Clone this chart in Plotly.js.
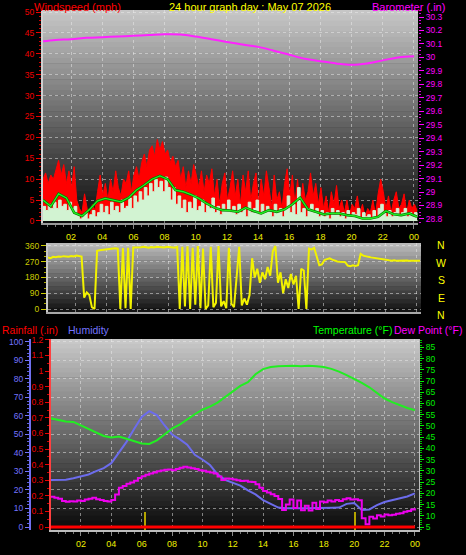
<!DOCTYPE html>
<html><head><meta charset="utf-8">
<script src="https://cdn.plot.ly/plotly-3.0.1.min.js"></script>
<style>html,body{margin:0;padding:0;background:#000;overflow:hidden}#chart{width:466px;height:555px}</style>
</head><body><div id="chart"></div>
<script>
// ---------- data ----------
const hourTickVals = [2,4,6,8,10,12,14,16,18,20,22,24];
const hourTickText = ['02','04','06','08','10','12','14','16','18','20','22','00'];

const windTickVals = [0,5,10,15,20,25,30,35,40,45,50];
const windTickText = ['0','5','10','15','20','25','30','35','40','45','50'];
const baroTickVals = [28.8,28.9,29.0,29.1,29.2,29.3,29.4,29.5,29.6,29.7,29.8,29.9,30.0,30.1,30.2,30.3];
const baroTickText = ['28.8','28.9','29','29.1','29.2','29.3','29.4','29.5','29.6','29.7','29.8','29.9','30','30.1','30.2','30.3'];
const dirTickVals = [0,90,180,270,360];
const dirTickText = ['0','90','180','270','360'];
const rainTickVals = [0,0.1,0.2,0.3,0.4,0.5,0.6,0.7,0.8,0.9,1.0,1.1,1.2];
const rainTickText = ['0','0.1','0.2','0.3','0.4','0.5','0.6','0.7','0.8','0.9','1','1.1','1.2'];
const humTickVals = [0,10,20,30,40,50,60,70,80,90,100];
const tempTickVals = [5,10,15,20,25,30,35,40,45,50,55,60,65,70,75,80,85];
const compassLabels = ['N','W','S','E','N'];

// wind gust (mph), 10-minute samples from 00:12
const gustMph = [10,11.5,9,11,10, 12,14.5,11, 13.5,9,12,8,13, 5,3, 2,6.5,3,1.5,4,2.5,7,
  11,6,9,5, 10,7,12,8,6,10, 9,12,7,11,13,10, 14,16,13,17, 18,15.5,19.5,17,19,16,
  17,14,15.5,13,14.5, 10,13,8,12,9,13.5,11, 8,12,7,11,9,12.5, 6,10,4,9,11.5,5,8,
  12,6,10,4,11,7,12, 5,9,11.5,4,10,6,12, 8,3.5,11,5,7,3, 9,12.5,6,11, 4,10,3,9,5,7,
  11.5,6,9,4,8, 3,6,2,7,4,8.5,3,5, 2,5,1.5,4,3,6,2,4,1, 3,2,5,1.5, 6.5,10,7,
  3,6,2,5,7,3,4,6.5,2, 5,3,4,2.5];
// wind speed (mph), 10-minute samples
const speedMph = [3.5,2.5,4,3,4.5,3,5,3.5,4,2.5,4.5,3,3.5,
  1.5,0.5,1,2,0.5,1.5,2.5,1,2,
  4,2,3.5,1.5,4.5,2.5,3.5,2,5,3,
  3.5,5.5,3,6,4.5,7,5,8,6,9,
  7,10,8,9.5,7,10.5,8,5,8,4,6,
  3,5,2,4.5,3,6,2.5,3.5,5,2,4,3,5.5,
  2,3.5,1.5,4,2.5,5,2,3.5,1.5,4,2,3,1,4.5,
  2,3,5,1.5,4,2,3.5,2.5,1,4,2,3,1,
  3,6,2,4,1.5,8,2,3,1,3,4,2,3,1,2.5,
  1,2,0.5,3,1.5,2.5,1,2,0.5,2.5,1,2,1.5,3,0.5,2,1,1.5,0.5,2.5,1,
  3,4,2,1,2.5,1,2,3,1,2,3,1,2,1,2,1];
// average wind (mph), 30-minute samples from 00:12
const avgMph = [5,3.5,6.5,5.5,2,1.2,2.8,4.8,5.4,5, 4.6,5.6,7.4,8.6,10,10.8,10,7.4,7,6.3,
  5.4,4.2,3.2,2.6,2.5,2.2,3.2,2.4,1.8,2.6, 2.2,2.8,4,5.6,2.8,2.2,1.6,1.8,1.8,1.4,
  1.2,0.6,0.6,1,2.4,1.6,1.4,1.8,1];
// barometer (in), hourly
const baroIn = [30.12,30.13,30.135,30.145,30.15,30.155,30.16,30.166,30.172,30.17,30.155,30.135,
  30.115,30.095,30.078,30.05,30.02,29.99,29.972,29.955,29.945,29.955,29.978,30.0,30.008];
// wind direction (deg), 10-minute samples
const windDirDeg = [295,290,298,296,300,298,302,300,299,303,300,305,302,
  300,65,95,80,10,0, 333,336,338,340,342,340,345,347,345, 0,348,5,350,0,352,
  352,350,353,355,352,350,354,352,355,353,350,352,355,353,352,350,355,
  0,355,15,358,0,350,25,360,5,345,0,
  20,355,10,35,360,15,45,5,350,30,10,170,355,20,60,25,80,
  290,180,230,150,210,170, 240,190,330,360, 150,210,90,170,120,200,140,190,0,
  230,220,0, 345,340,350,300, 250,255,280, 285,290,282,275,272,270,270,268,
  248,245,250,246,250, 315,305, 300,298,295,292,290,288,285,282,
  280,278,276,278,275,276,274,275,277,275,276,274,275,276];
// temperature (F) and humidity (%), 30-minute samples from 00:00
const tempF = [53.4,52.8,52,51.8,50.2,48.8,47,45.5,44.8,45.3, 44.3,43.2,42.2,42,43.6,46.2,48.8,50.6,53,55.2,
  57.2,58.6,60.4,62.8,65.5,67.8,69.5,73,75.3,76.2, 76.6,76.8,76.8,76.6,76.8,76.6,76.2,75.4,74.2,72.6,
  71,69.2,67.2,64.8,62.2,60.6,59.2,58,57];
const humidityPct = [25.4,25.4,25.6,26.4,27.2,28.4,30.2,31.8,34.5,40.5, 46,53,59.5,62.6,60.5,55,50,47.5,44.5,39,
  36.5,33.5,28.5,25.5,24,22.4,19.8,17.6,14.5,12.5, 10.5,10.2,10.1,10,10.1,10.3,10.2,10.4,10.5,12.5,
  13,9.2,9.5,11.8,13.5,14.6,15.4,16.5,18.2];
// dew point (F), 15-minute samples from 00:00
const dewPointF = [18.5,18,17.6,16.6,16.2,16.5,16.3,16.8,16.6,17.2,
  17.6,18,17.4,17,16.6,16.3,17,19.5,22.5,23.2,
  24.2,24.8,25.6,26.8,27.6,28.3,28.8,29.3,29.8,30.2,
  30.5,30.6,30.3,30.8,31.4,31.8,31.5,31.2,30.8,30.3,
  30,29.6,29.3,28.8,27.5,25.9,26.6,26.5,26.2,25.8,
  25.5,25.6,25.2,25,24,22.5,21,20.4,19.6,18.8,
  17.5,12.6,15,17.2,13.5,16.8,12.5,14.5,12.3,15.8,
  13,16.3,16,16.8,16.4,17,16.6,17.3,17.8,17.2,
  17.4,16.9,8.9,6.2,9.6,8.8,10.2,9.7,10.6,10.2,
  10.4,10.9,11.1,11.8,12.1,12.8,13.3];
// rainfall (in), hourly
const rainIn = [0,0,0,0,0,0,0,0,0,0,0,0,0,0,0,0,0,0,0,0,0,0,0,0,0];
// yellow event markers in the lower panel
const markHours = [6.2, 20.05];
const markValues = [0.115, 0.115];

// ---------- time axes ----------
const seq = (start, step, n) => Array.from({length:n}, (_, i) => start + i*step);
const t10 = seq(0.2, 1/6, 145);
const t30w = seq(0.2, 0.5, 49);
const tBaro = seq(0, 1, 25).map(h => h === 0 ? 0.2 : h);
const tHalf = seq(0, 0.5, 49);
const tQuarter = seq(0, 0.25, 97);
const tHour = seq(0, 1, 25);

// ---------- geometry ----------
const W = 466, H = 555;
const px = x => x / W, py = y => 1 - y / H;
const GRID = 'rgba(235,235,235,0.5)';

function bands(x0, x1, yTop, yBot, top, bot, n) {
  const out = [];
  for (let k = 0; k < n; k++) {
    const f = k / (n - 1);
    const c = Math.round(top + (bot - top) * f);
    const ya = yTop + (yBot - yTop) * k / n, yb = yTop + (yBot - yTop) * (k + 1) / n + 0.6;
    out.push({type:'rect', xref:'paper', yref:'paper', x0:px(x0), x1:px(x1), y0:py(yb), y1:py(ya),
      fillcolor:`rgb(${c},${c},${c})`, line:{width:0}, layer:'below'});
  }
  return out;
}
const shapes = [].concat(
  bands(43, 418, 10, 223, 198, 12, 40),
  bands(48, 421, 243, 312, 185, 20, 16),
  bands(51, 419, 339, 530, 200, 10, 40)
);

const traces = [
  {x:t10, y:gustMph, type:'scatter', mode:'lines', fill:'tozeroy', fillcolor:'#ff0000',
   line:{color:'#ff0000', width:1}, xaxis:'x', yaxis:'y', hoverinfo:'skip'},
  {x:t10, y:speedMph, type:'scatter', mode:'lines', fill:'tozeroy', fillcolor:'#d2f3d2',
   line:{color:'#d2f3d2', width:1, shape:'hv'}, xaxis:'x', yaxis:'y', hoverinfo:'skip'},
  {x:t30w, y:avgMph, type:'scatter', mode:'lines', line:{color:'#007a00', width:2.6}, xaxis:'x', yaxis:'y', hoverinfo:'skip'},
  {x:t30w, y:avgMph, type:'scatter', mode:'lines', line:{color:'#22ee22', width:1.3}, xaxis:'x', yaxis:'y', hoverinfo:'skip'},
  {x:tBaro, y:baroIn, type:'scatter', mode:'lines', line:{color:'#ff22ff', width:2, shape:'spline'}, xaxis:'x', yaxis:'y2', hoverinfo:'skip'},
  {x:t10, y:windDirDeg, type:'scatter', mode:'lines', line:{color:'#f2f200', width:2}, xaxis:'x2', yaxis:'y3', hoverinfo:'skip'},
  {x:markHours, y:markValues, base:[-0.02,-0.02], type:'bar', width:0.14, marker:{color:'#b4a400', line:{width:0}}, xaxis:'x3', yaxis:'y4', hoverinfo:'skip'},
  {x:tHour, y:rainIn, type:'scatter', mode:'lines', line:{color:'#ff0000', width:3}, xaxis:'x3', yaxis:'y4', hoverinfo:'skip'},
  {x:tHalf, y:tempF, type:'scatter', mode:'lines', line:{color:'#22ee22', width:2}, xaxis:'x3', yaxis:'y6', hoverinfo:'skip'},
  {x:tHalf, y:humidityPct, type:'scatter', mode:'lines', line:{color:'#6c6cec', width:2}, xaxis:'x3', yaxis:'y5', hoverinfo:'skip'},
  {x:tQuarter, y:dewPointF, type:'scatter', mode:'lines', line:{color:'#ee00ee', width:2, shape:'hv'}, xaxis:'x3', yaxis:'y6', hoverinfo:'skip'}
];

const F = 'Liberation Sans, Arial, sans-serif';
const xCommon = {tickvals:hourTickVals, ticktext:hourTickText, ticks:'outside', ticklen:4, tickcolor:'#8a8a8a',
  showgrid:true, gridcolor:GRID, griddash:'dot', gridwidth:1, zeroline:false, fixedrange:true,
  minor:{dtick:0.5, tick0:0, ticks:'outside', ticklen:2, tickcolor:'#777', showgrid:false}};

const ann = (text, x, y, color, anchor, size) => ({text, x:px(x), y:py(y), xref:'paper', yref:'paper',
  xanchor:anchor, yanchor:'middle', showarrow:false, font:{family:F, size:size||11, color}, borderpad:0});

const annotations = [
  ann('Windspeed (mph)', 33, 7, '#ff0000', 'left'),
  ann('24 hour graph day : May 07 2026', 250, 7, '#ffff00', 'center'),
  ann('Barometer (.in)', 371, 7, '#ff00ff', 'left'),
  ann('Rainfall (.in)', 1, 330, '#ff0000', 'left', 10.5),
  ann('Humidity', 67, 330, '#7474ff', 'left', 10.5),
  ann('Temperature (°F)', 312, 330, '#00ff00', 'left', 10.5),
  ann('Dew Point (°F)', 393, 330, '#ff00ff', 'left', 10.5)
];
const compassY = [245, 262.5, 280, 297.5, 315];
compassLabels.forEach((t, i) => annotations.push(ann(t, 441, compassY[i], '#ffff00', 'center', 10.5)));

const layout = {
  width:W, height:H, margin:{l:0, r:0, t:0, b:0}, paper_bgcolor:'#000', plot_bgcolor:'rgba(0,0,0,0)',
  showlegend:false, font:{family:F, size:8.5}, shapes, annotations, bargap:0,
  xaxis:Object.assign({}, xCommon, {domain:[px(43), px(418)], range:[0.2, 24.26], anchor:'y',
    tickfont:{family:F, size:9, color:'#eeee00'}, showline:true, linecolor:'#9a9a9a', linewidth:2}),
  yaxis:{domain:[py(223), py(10)], range:[-0.48, 50.48], tickvals:windTickVals, ticktext:windTickText,
    tickfont:{family:F, size:8.5, color:'#ee0000'}, ticks:'outside', ticklen:5, tickcolor:'#ee0000',
    minor:{dtick:1, tick0:0, ticks:'outside', ticklen:2, tickcolor:'#cc0000', showgrid:false},
    showgrid:true, gridcolor:GRID, griddash:'dot', zeroline:false, showline:true, linecolor:'#d0d0d0', linewidth:2, fixedrange:true},
  yaxis2:{overlaying:'y', side:'right', anchor:'x', range:[28.770, 30.352], tickvals:baroTickVals, ticktext:baroTickText,
    tickfont:{family:F, size:8.5, color:'#ff00ff'}, ticks:'outside', ticklen:5, tickcolor:'#ff00ff',
    minor:{dtick:0.025, tick0:28.8, ticks:'outside', ticklen:2, tickcolor:'#dd00dd', showgrid:false},
    showgrid:false, zeroline:false, showline:false, fixedrange:true},
  xaxis2:Object.assign({}, xCommon, {domain:[px(48), px(421)], range:[0.2, 24.26], anchor:'y3', showticklabels:false,
    ticks:'', minor:{ticks:''}, showline:true, linecolor:'#a8a8a8', linewidth:2}),
  yaxis3:{domain:[py(312), py(243)], range:[-17.1, 377.1], tickvals:dirTickVals, ticktext:dirTickText, anchor:'x2',
    tickfont:{family:F, size:8.5, color:'#cccc00'}, ticks:'outside', ticklen:5, tickcolor:'#cccc00',
    minor:{dtick:30, tick0:0, ticks:'outside', ticklen:2, tickcolor:'#aaaa00', showgrid:false},
    showgrid:true, gridcolor:GRID, griddash:'dot', zeroline:false, showline:true, linecolor:'#c8c8c8', linewidth:2, fixedrange:true},
  xaxis3:Object.assign({}, xCommon, {domain:[px(51), px(419)], range:[0.026, 24.27], anchor:'y4',
    tickfont:{family:F, size:9, color:'#eeee00'}, showline:true, linecolor:'#bdbdbd', linewidth:2}),
  yaxis4:{domain:[py(530), py(339)], range:[-0.0192, 1.2051], anchor:'x3', tickvals:rainTickVals, ticktext:rainTickText,
    tickfont:{family:F, size:8.5, color:'#ee0000'}, ticks:'outside', ticklen:4, tickcolor:'#ee0000',
    minor:{dtick:0.05, tick0:0, ticks:'outside', ticklen:2, tickcolor:'#cc0000', showgrid:false},
    showgrid:false, zeroline:false, showline:true, linecolor:'#ff4040', linewidth:2, fixedrange:true},
  yaxis5:{overlaying:'y4', anchor:'free', position:px(30), side:'left', range:[-1.62, 101.6], tickvals:humTickVals,
    tickfont:{family:F, size:8.5, color:'#7474ff'}, ticks:'outside', ticklen:4, tickcolor:'#7474ff',
    minor:{dtick:2, tick0:0, ticks:'outside', ticklen:2, tickcolor:'#6060dd', showgrid:false},
    showgrid:true, gridcolor:GRID, griddash:'dot', zeroline:false, showline:true, linecolor:'#7070f0', linewidth:2, fixedrange:true},
  yaxis6:{overlaying:'y4', anchor:'x3', side:'right', range:[3.664, 88.7], tickvals:tempTickVals,
    tickfont:{family:F, size:8.5, color:'#00ee00'}, ticks:'outside', ticklen:4, tickcolor:'#00ee00',
    minor:{dtick:1, tick0:0, ticks:'outside', ticklen:2, tickcolor:'#00bb00', showgrid:false},
    showgrid:false, zeroline:false, showline:true, linecolor:'#bdbdbd', linewidth:1, fixedrange:true}
};

Plotly.newPlot('chart', traces, layout, {staticPlot:true, displayModeBar:false});
</script>
</body></html>
